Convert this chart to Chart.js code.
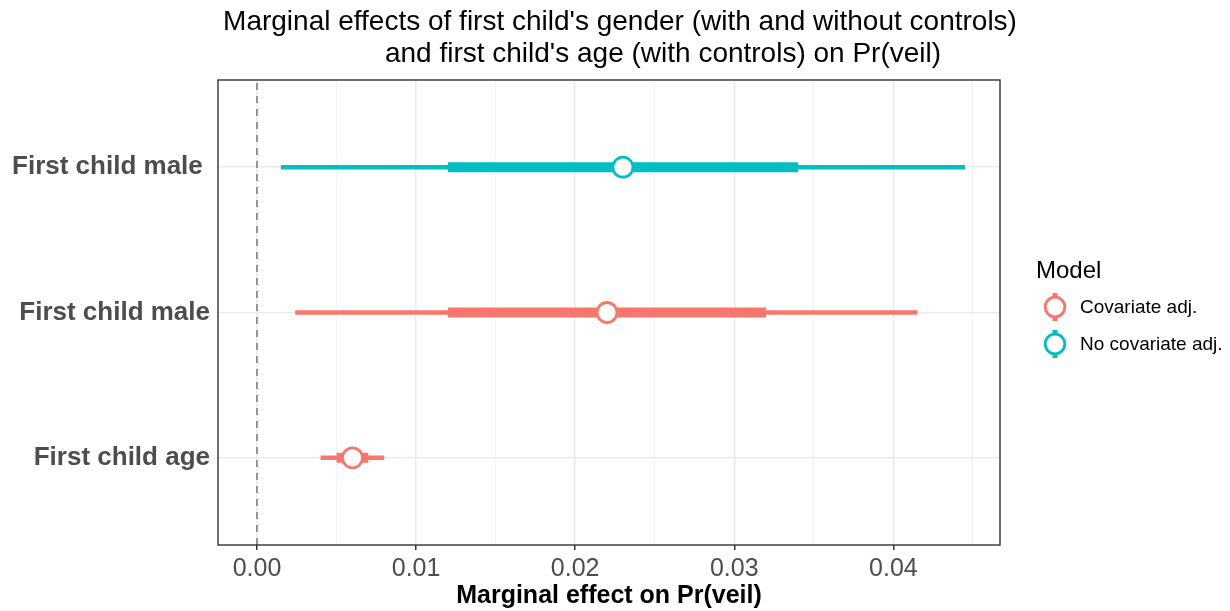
<!DOCTYPE html>
<html>
<head>
<meta charset="utf-8">
<script src="https://cdn.jsdelivr.net/npm/chart.js@4.4.1/dist/chart.umd.min.js"></script>
<style>
html,body{margin:0;padding:0;background:#fff;}
#wrap{width:1230px;height:611px;position:relative;}
</style>
</head>
<body>
<div id="wrap"><canvas id="c" width="1230" height="611"></canvas></div>
<script>
// ---- data ----
const categories = ["First child age", "First child male", "First child male "];
const models = ["Covariate adj.", "Covariate adj.", "No covariate adj."];
const estimate = [0.006, 0.022, 0.023];
const outerLow = [0.004, 0.0024, 0.0015];
const outerHigh = [0.008, 0.0415, 0.0445];
const innerLow = [0.005, 0.012, 0.012];
const innerHigh = [0.007, 0.032, 0.034];
const xTicks = [0, 0.005, 0.01, 0.015, 0.02, 0.025, 0.03, 0.035, 0.04, 0.045];
const xLabels = ["0.00", "", "0.01", "", "0.02", "", "0.03", "", "0.04", ""];
const titleLines = ["Marginal effects of first child's gender (with and without controls)", "and first child's age (with controls) on Pr(veil)"];
const legendTitle = "Model";
const legendModels = ["Covariate adj.", "No covariate adj."];
const modelColors = {"Covariate adj.": "#F8766D", "No covariate adj.": "#00BFC4"};

const FONT = "'Liberation Sans', Arial, Helvetica, sans-serif";

const datasets = [];
// zero reference line
datasets.push({
  type: 'line', order: 3, data: [{x: 0, y: 0.4}, {x: 0, y: 3.6}],
  borderColor: '#7f7f7f', borderWidth: 1.6, borderDash: [7, 6],
  pointRadius: 0, fill: false
});
for (let i = 0; i < categories.length; i++) {
  const col = modelColors[models[i]];
  const yv = i + 1;
  datasets.push({
    type: 'line', order: 2, data: [{x: outerLow[i], y: yv}, {x: outerHigh[i], y: yv}],
    borderColor: col, borderWidth: 4.5, pointRadius: 0, borderCapStyle: 'butt'
  });
  datasets.push({
    type: 'line', order: 1, data: [{x: innerLow[i], y: yv}, {x: innerHigh[i], y: yv}],
    borderColor: col, borderWidth: 10, pointRadius: 0, borderCapStyle: 'butt'
  });
}
for (let i = 0; i < categories.length; i++) {
  const col = modelColors[models[i]];
  datasets.push({
    type: 'scatter', order: 0, data: [{x: estimate[i], y: i + 1}],
    pointRadius: 10, pointBackgroundColor: '#ffffff', pointBorderColor: col,
    pointBorderWidth: 2.8, pointHoverRadius: 10
  });
}

const overlay = {
  id: 'overlay',
  afterDraw(chart) {
    const ctx = chart.ctx;
    const a = chart.chartArea;
    ctx.save();
    // panel border
    ctx.strokeStyle = '#333333';
    ctx.lineWidth = 1.4;
    ctx.strokeRect(a.left, a.top, a.right - a.left, a.bottom - a.top);
    // title
    ctx.fillStyle = '#000';
    ctx.font = "28px " + FONT;
    ctx.textAlign = 'center';
    ctx.textBaseline = 'alphabetic';
    ctx.fillText(titleLines[0], 620, 30);
    ctx.fillText(titleLines[1], 663, 62);
    // legend
    ctx.textAlign = 'left';
    ctx.font = "24px " + FONT;
    ctx.fillText(legendTitle, 1036, 278);
    ctx.font = "19px " + FONT;
    legendModels.forEach((m, k) => {
      const cy = 307 + k * 37;
      const cx = 1055;
      const col = modelColors[m];
      ctx.strokeStyle = col;
      ctx.lineWidth = 5;
      ctx.beginPath();
      ctx.moveTo(cx, cy - 14); ctx.lineTo(cx, cy + 14);
      ctx.stroke();
      ctx.beginPath();
      ctx.arc(cx, cy, 9.8, 0, Math.PI * 2);
      ctx.fillStyle = '#fff';
      ctx.fill();
      ctx.lineWidth = 2.8;
      ctx.stroke();
      ctx.fillStyle = '#000';
      ctx.textBaseline = 'middle';
      ctx.fillText(m, 1080, cy + 1);
    });
    ctx.restore();
  }
};

new Chart(document.getElementById('c'), {
  data: {datasets},
  options: {
    responsive: false,
    animation: false,
    events: [],
    layout: {padding: {left: 0, right: 230, top: 80, bottom: 0}},
    plugins: {legend: {display: false}, tooltip: {enabled: false}, title: {display: false}},
    scales: {
      x: {
        type: 'linear', min: -0.00245, max: 0.0467,
        afterBuildTicks(scale) { scale.ticks = xTicks.map(v => ({value: v})); },
        afterFit(scale) { scale.height = 66; },
        ticks: {
          autoSkip: false, maxRotation: 0, padding: 4,
          color: '#4d4d4d', font: {family: FONT, size: 25},
          callback(v, idx) { return xLabels[idx]; }
        },
        grid: {
          color(ctx) { const i = ctx.index; return (i % 2 === 0) ? '#ebebeb' : '#f3f3f3'; },
          lineWidth(ctx) { return (ctx.index % 2 === 0) ? 1.5 : 1; },
          tickColor(ctx) { return (ctx.index % 2 === 0) ? '#333333' : 'rgba(0,0,0,0)'; },
          tickLength: 5, drawTicks: true
        },
        border: {display: false},
        title: {display: true, text: 'Marginal effect on Pr(veil)', color: '#000',
          font: {family: FONT, size: 25, weight: 'bold'}, padding: {top: 0, bottom: 0}}
      },
      y: {
        type: 'linear', min: 0.4, max: 3.6,
        afterBuildTicks(scale) { scale.ticks = [1, 2, 3].map(v => ({value: v})); },
        afterFit(scale) { scale.width = 218; },
        ticks: {
          autoSkip: false, padding: 4, color: '#4d4d4d',
          font: {family: FONT, size: 26, weight: 'bold'},
          callback(v) { return categories[Math.round(v) - 1]; }
        },
        grid: {color: '#ebebeb', lineWidth: 1.5, tickColor: 'rgba(0,0,0,0)', tickLength: 4},
        border: {display: false}
      }
    }
  },
  plugins: [overlay]
});
</script>
</body>
</html>
